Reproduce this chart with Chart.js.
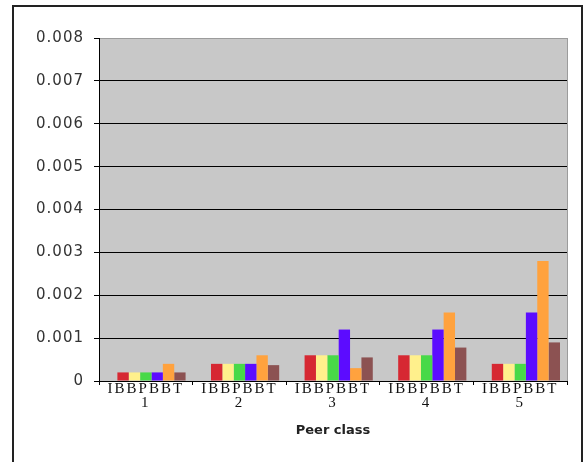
<!DOCTYPE html>
<html>
<head>
<meta charset="utf-8">
<script src="https://cdn.jsdelivr.net/npm/chart.js@4.4.2/dist/chart.umd.min.js"></script>
<style>
  html, body { margin: 0; padding: 0; background: #fff; }
  #wrap { position: relative; width: 586px; height: 462px; overflow: hidden; }
  #frame {
    position: absolute; left: 12px; top: 5px; width: 571px; height: 480px;
    box-sizing: border-box; border: 2px solid #222;
  }
  #chart { position: absolute; left: 0; top: 0; }
</style>
</head>
<body>
<div id="wrap">
  <div id="frame"></div>
  <canvas id="chart" width="586" height="462"></canvas>
</div>
<script>
const peerClasses = ['1', '2', '3', '4', '5'];
const barLetters = 'IBBPBBT';
const yTickLabels = ['0', '0.001', '0.002', '0.003', '0.004', '0.005', '0.006', '0.007', '0.008'];

// one value per peer class, left to right inside each group
const seriesI = [0, 0, 0, 0, 0];
const seriesB1 = [0.0002, 0.0004, 0.0006, 0.0006, 0.0004];
const seriesB2 = [0.0002, 0.0004, 0.0006, 0.0006, 0.0004];
const seriesP = [0.0002, 0.0004, 0.0006, 0.0006, 0.0004];
const seriesB3 = [0.0002, 0.0004, 0.0012, 0.0012, 0.0016];
const seriesB4 = [0.0004, 0.0006, 0.0003, 0.0016, 0.0028];
const seriesT = [0.0002, 0.00037, 0.00055, 0.00078, 0.0009];

const series = [
  { label: 'I', data: seriesI, color: 'rgba(0,0,0,0)' },
  { label: 'B', data: seriesB1, color: '#d62832' },
  { label: 'B', data: seriesB2, color: '#fff08c' },
  { label: 'P', data: seriesP, color: '#48d948' },
  { label: 'B', data: seriesB3, color: '#5c0cff' },
  { label: 'B', data: seriesB4, color: '#ffa23e' },
  { label: 'T', data: seriesT, color: '#8c5252' }
];

const spacing = { x: '2px', y: '1px' };

// canvas letterSpacing for the tick labels
const letterSpacing = {
  id: 'letterSpacing',
  beforeDraw(chart) {
    Object.values(chart.scales).forEach(scale => {
      if (scale._spaced) return;
      const draw = scale.drawLabels;
      scale.drawLabels = function (area) {
        this.ctx.save();
        this.ctx.letterSpacing = spacing[this.id] || '0px';
        draw.call(this, area);
        this.ctx.restore();
      };
      scale._spaced = true;
    });
  }
};

const plotBackground = {
  id: 'plotBackground',
  beforeDraw(chart) {
    const { ctx, chartArea: a } = chart;
    ctx.save();
    ctx.fillStyle = '#c8c8c8';
    ctx.fillRect(a.left, a.top, a.right - a.left, a.bottom - a.top);
    ctx.strokeStyle = '#9c9c9c';
    ctx.lineWidth = 1;
    ctx.beginPath();
    ctx.moveTo(a.right + 0.5, a.top);
    ctx.lineTo(a.right + 0.5, a.bottom);
    ctx.stroke();
    ctx.restore();
  }
};

new Chart(document.getElementById('chart'), {
  type: 'bar',
  data: {
    labels: peerClasses.map(c => [barLetters, c]),
    datasets: series.map(s => ({
      label: s.label,
      data: s.data,
      backgroundColor: s.color,
      borderWidth: 0,
      categoryPercentage: 0.85,
      barPercentage: 1
    }))
  },
  options: {
    responsive: false,
    animation: false,
    layout: {
      padding: { top: 38, right: 19, bottom: 0, left: 0 }
    },
    plugins: {
      legend: { display: false },
      tooltip: { enabled: false }
    },
    scales: {
      x: {
        afterFit: scale => { scale.height = 81; },
        grid: {
          offset: true,
          drawOnChartArea: false,
          tickLength: 4,
          color: '#000'
        },
        border: { color: '#000', width: 1 },
        ticks: {
          color: '#111',
          padding: -3,
          maxRotation: 0,
          autoSkip: false,
          font: { family: 'Liberation Serif', size: 15, lineHeight: 0.95 }
        },
        title: {
          display: true,
          text: 'Peer class',
          color: '#222',
          padding: { top: 0, bottom: 24 },
          font: { family: 'DejaVu Sans', size: 13, weight: 'bold' }
        }
      },
      y: {
        min: 0,
        max: 0.008,
        afterFit: scale => { scale.width = 99; },
        grid: {
          color: ctx => (ctx.tick && ctx.tick.value >= 0.008 ? '#9c9c9c' : '#000'),
          tickColor: '#000',
          tickLength: 5
        },
        border: { color: '#000', width: 1 },
        ticks: {
          stepSize: 0.001,
          padding: 10,
          color: '#333',
          font: { family: 'DejaVu Sans', size: 15 },
          callback: (value, index) => yTickLabels[index]
        }
      }
    }
  },
  plugins: [plotBackground, letterSpacing]
});
</script>
</body>
</html>
